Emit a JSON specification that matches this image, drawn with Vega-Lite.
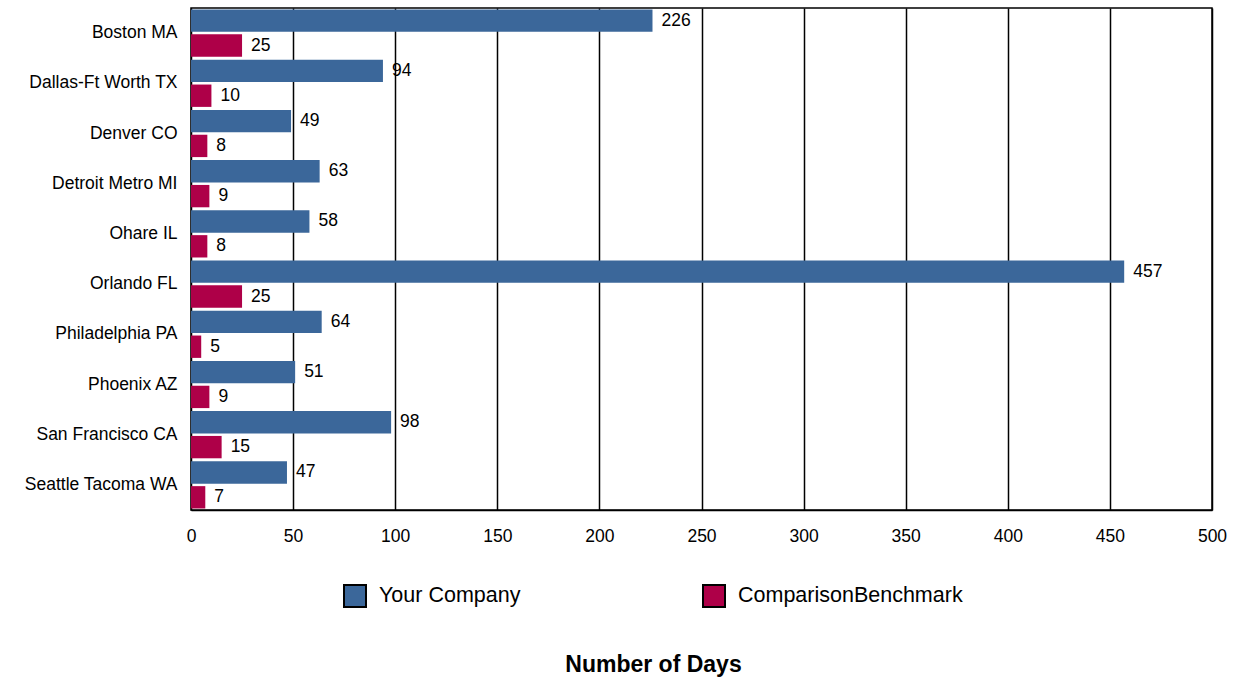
{
  "$schema": "https://vega.github.io/schema/vega-lite/v6.json",
  "width": 1021,
  "height": 502,
  "autosize": "none",
  "padding": {"left": 191, "top": 8, "right": 29, "bottom": 174},
  "background": "white",
  "config": {
    "font": "Liberation Sans",
    "view": {"stroke": "black", "strokeWidth": 1.5}
  },
  "data": {
    "values": [
      {"city": "Boston MA", "series": "Your Company", "days": 226},
      {"city": "Boston MA", "series": "ComparisonBenchmark", "days": 25},
      {"city": "Dallas-Ft Worth TX", "series": "Your Company", "days": 94},
      {"city": "Dallas-Ft Worth TX", "series": "ComparisonBenchmark", "days": 10},
      {"city": "Denver CO", "series": "Your Company", "days": 49},
      {"city": "Denver CO", "series": "ComparisonBenchmark", "days": 8},
      {"city": "Detroit Metro MI", "series": "Your Company", "days": 63},
      {"city": "Detroit Metro MI", "series": "ComparisonBenchmark", "days": 9},
      {"city": "Ohare IL", "series": "Your Company", "days": 58},
      {"city": "Ohare IL", "series": "ComparisonBenchmark", "days": 8},
      {"city": "Orlando FL", "series": "Your Company", "days": 457},
      {"city": "Orlando FL", "series": "ComparisonBenchmark", "days": 25},
      {"city": "Philadelphia PA", "series": "Your Company", "days": 64},
      {"city": "Philadelphia PA", "series": "ComparisonBenchmark", "days": 5},
      {"city": "Phoenix AZ", "series": "Your Company", "days": 51},
      {"city": "Phoenix AZ", "series": "ComparisonBenchmark", "days": 9},
      {"city": "San Francisco CA", "series": "Your Company", "days": 98},
      {"city": "San Francisco CA", "series": "ComparisonBenchmark", "days": 15},
      {"city": "Seattle Tacoma WA", "series": "Your Company", "days": 47},
      {"city": "Seattle Tacoma WA", "series": "ComparisonBenchmark", "days": 7}
    ]
  },
  "encoding": {
    "y": {
      "field": "city",
      "type": "nominal",
      "sort": null,
      "scale": {"paddingInner": 0.06, "paddingOuter": 0.03},
      "axis": {
        "title": null,
        "domain": false,
        "ticks": false,
        "grid": false,
        "labelFontSize": 17.5,
        "labelColor": "black",
        "labelPadding": 14,
        "labelLimit": 300
      }
    },
    "yOffset": {
      "field": "series",
      "type": "nominal",
      "sort": ["Your Company", "ComparisonBenchmark"],
      "scale": {"paddingInner": 0.1}
    },
    "x": {
      "field": "days",
      "type": "quantitative",
      "scale": {"domain": [0, 500], "nice": false},
      "axis": {
        "values": [0, 50, 100, 150, 200, 250, 300, 350, 400, 450, 500],
        "title": "Number of Days",
        "titleFontSize": 23,
        "titleFontWeight": "bold",
        "titleColor": "black",
        "titleX": 462,
        "titleY": 143,
        "titleBaseline": "top",
        "domain": true,
        "domainColor": "black",
        "domainWidth": 1.5,
        "ticks": false,
        "grid": true,
        "gridColor": "black",
        "gridWidth": 1.5,
        "gridOpacity": 1,
        "labelFontSize": 17.5,
        "labelColor": "black",
        "labelPadding": 17,
        "labelFlush": false
      }
    }
  },
  "layer": [
    {
      "mark": {"type": "bar"},
      "encoding": {
        "color": {
          "field": "series",
          "type": "nominal",
          "sort": ["Your Company", "ComparisonBenchmark"],
          "scale": {
            "domain": ["Your Company", "ComparisonBenchmark"],
            "range": ["#3B679A", "#AE0048"]
          },
          "legend": {
            "title": null,
            "orient": "none",
            "legendX": 152,
            "legendY": 576,
            "direction": "horizontal",
            "columns": 2,
            "columnPadding": 178,
            "symbolType": "square",
            "symbolSize": 484,
            "symbolStrokeColor": "black",
            "symbolStrokeWidth": 2,
            "symbolOpacity": 1,
            "labelFontSize": 21.5,
            "labelColor": "black",
            "labelOffset": 12,
            "labelLimit": 400
          }
        }
      }
    },
    {
      "mark": {"type": "text", "align": "left", "baseline": "middle", "dx": 9, "fontSize": 17.5, "color": "black"},
      "encoding": {
        "text": {"field": "days", "type": "quantitative"}
      }
    }
  ]
}
